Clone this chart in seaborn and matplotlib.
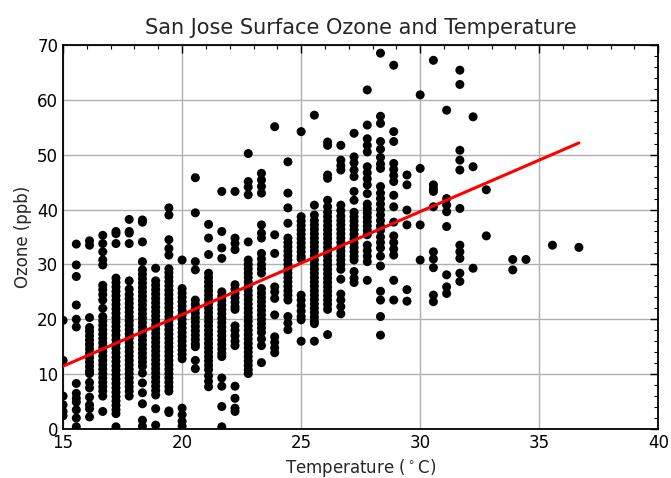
import numpy as np
import pandas as pd
import matplotlib
matplotlib.use("Agg")
import matplotlib.pyplot as plt
from matplotlib.ticker import MultipleLocator
import seaborn as sns

# Daily observations grouped by the whole-degree Fahrenheit reading (59F .. 98F)
oz_59F = [19.8, 12.5, 6.0, 4.4, 3.2, 2.4]
oz_60F = [33.7, 29.9, 27.8, 22.6, 20.0, 18.6, 8.3, 6.5, 5.6, 4.9, 3.5, 2.0, 0.4]
oz_61F = [34.3, 33.5, 20.3, 18.5, 17.8, 17.0, 16.2, 15.4, 14.6, 13.8, 13.0, 12.2,
          11.4, 10.6, 10.1, 8.5, 7.5, 5.8, 4.4, 3.7, 2.2]
oz_62F = [35.3, 33.8, 32.3, 30.8, 29.9, 26.2, 25.4, 24.5, 23.5, 22.0, 20.5, 19.7,
          18.9, 18.1, 17.3, 16.5, 15.7, 14.9, 14.1, 13.3, 12.5, 11.7, 10.9, 10.1,
          9.3, 8.5, 7.7, 6.9, 6.0, 3.2]
oz_63F = [36.0, 35.6, 33.8, 27.5, 26.7, 25.9, 25.1, 24.3, 23.5, 22.7, 21.9, 21.1,
          20.3, 19.5, 18.7, 17.9, 17.1, 16.3, 15.5, 14.7, 13.9, 13.1, 12.3, 11.5,
          10.7, 9.9, 9.1, 8.3, 7.5, 6.7, 5.9, 5.1, 4.3, 3.5, 2.8, 0.4]
oz_64F = [38.2, 36.0, 35.7, 33.8, 27.0, 25.5, 24.5, 23.7, 22.9, 22.1, 21.3, 20.5,
          19.7, 18.9, 18.1, 17.3, 16.5, 15.7, 14.9, 14.1, 13.3, 12.5, 11.7, 10.9,
          10.1, 9.3, 8.5, 7.7, 6.9, 6.0]
oz_65F = [38.1, 37.7, 34.1, 30.5, 29.0, 28.2, 27.4, 26.6, 25.8, 25.0, 24.2, 23.4,
          22.6, 21.8, 21.0, 20.2, 19.4, 18.6, 17.8, 17.0, 16.2, 15.4, 14.6, 13.8,
          13.0, 12.2, 11.4, 10.2, 8.4, 6.6, 4.6, 1.6, 0.5]
oz_66F = [29.3, 27.0, 26.2, 25.4, 24.6, 23.8, 23.0, 22.2, 21.4, 20.6, 19.8, 19.0,
          18.2, 17.4, 16.6, 15.8, 15.0, 14.2, 13.4, 12.6, 11.8, 11.0, 10.2, 9.4,
          8.6, 7.8, 7.0, 6.2, 3.7, 0.7]
oz_67F = [40.3, 39.0, 34.5, 32.9, 31.7, 29.2, 28.5, 27.7, 26.9, 26.1, 25.3, 24.5,
          23.7, 22.9, 22.1, 21.3, 20.5, 19.7, 18.9, 18.1, 17.3, 16.5, 15.7, 14.9,
          14.1, 13.3, 12.5, 11.7, 10.9, 10.1, 9.3, 8.5, 7.7, 6.9, 3.3, 3.0]
oz_68F = [30.8, 25.6, 24.8, 24.0, 23.2, 22.4, 21.6, 20.8, 20.0, 19.2, 18.4, 17.6,
          16.8, 16.0, 15.2, 14.4, 13.6, 12.8, 3.8, 2.6, 1.4, 0.5]
oz_69F = [45.8, 39.4, 30.5, 29.0, 23.5, 22.7, 21.9, 21.1, 20.3, 19.5, 18.7, 17.9,
          17.1, 16.3, 15.5, 15.0, 12.5, 11.0]
oz_70F = [37.3, 34.8, 31.8, 28.4, 27.6, 26.8, 26.0, 25.2, 24.4, 23.6, 22.8, 22.0,
          21.2, 20.4, 19.6, 18.8, 18.0, 17.2, 16.4, 15.6, 14.8, 14.0, 13.2, 12.4,
          11.6, 10.8, 9.7, 8.7, 7.7]
oz_71F = [43.3, 36.0, 33.0, 31.1, 25.0, 24.2, 23.4, 22.6, 21.8, 21.0, 20.2, 19.4,
          18.6, 17.8, 17.0, 16.2, 15.4, 14.6, 13.8, 13.2, 9.3, 7.8, 4.1, 0.4]
oz_72F = [43.3, 34.8, 33.8, 32.7, 26.3, 25.5, 24.7, 23.9, 23.1, 22.3, 21.8, 18.8,
          18.0, 17.0, 16.0, 15.2, 7.8, 5.6, 3.8, 3.2]
oz_73F = [50.2, 45.1, 44.1, 42.7, 34.1, 30.8, 30.0, 29.2, 28.4, 27.6, 26.8, 26.0,
          25.2, 24.4, 23.6, 22.8, 22.0, 21.2, 20.4, 19.6, 18.8, 18.0, 17.2, 16.4,
          15.6, 14.8, 14.0, 13.2, 12.4, 11.6, 10.8, 10.1]
oz_74F = [46.6, 45.4, 44.2, 43.0, 37.2, 35.7, 34.8, 32.0, 31.0, 30.0, 29.2, 28.4,
          25.6, 24.8, 24.0, 23.2, 22.4, 21.6, 20.8, 20.0, 19.2, 18.4, 17.6, 16.4,
          15.2, 12.1]
oz_75F = [55.1, 35.4, 32.0, 25.9, 25.0, 23.8, 20.8, 16.8, 15.8, 14.8, 13.9]
oz_76F = [48.7, 43.0, 40.3, 37.5, 34.8, 34.0, 33.2, 32.4, 31.6, 30.8, 30.0, 29.2,
          28.4, 27.6, 26.8, 26.0, 25.2, 24.4, 23.5, 20.5, 19.3, 18.1]
oz_77F = [54.2, 38.7, 37.9, 37.1, 36.3, 35.5, 34.7, 33.9, 33.1, 32.3, 31.5, 31.0,
          24.4, 23.5, 22.5, 21.5, 20.5, 19.9, 16.0]
oz_78F = [57.2, 40.8, 39.0, 38.0, 37.2, 36.4, 35.6, 34.8, 34.0, 33.2, 32.4, 31.6,
          30.8, 30.0, 29.2, 28.4, 27.6, 26.8, 26.0, 25.2, 24.4, 23.6, 22.8, 22.0,
          21.2, 20.4, 19.6, 19.2, 16.0]
oz_79F = [52.3, 51.7, 46.3, 45.7, 41.7, 40.5, 39.5, 38.7, 37.9, 37.1, 36.3, 35.5,
          34.7, 33.9, 33.1, 32.3, 31.5, 30.7, 29.9, 29.1, 28.3, 27.5, 26.7, 25.9,
          25.1, 24.3, 23.5, 22.7, 21.8, 17.2]
oz_80F = [51.7, 49.0, 48.0, 47.2, 40.8, 39.8, 38.8, 38.0, 37.2, 36.4, 35.6, 34.8,
          34.0, 33.2, 32.4, 31.6, 30.8, 30.0, 29.1, 27.3, 24.6, 23.5, 22.3, 21.0]
oz_81F = [53.9, 49.6, 48.5, 47.2, 46.0, 43.3, 41.7, 39.5, 38.7, 37.9, 37.1, 36.3,
          35.5, 34.7, 33.9, 33.1, 32.3, 31.5, 30.8, 28.7, 27.5, 26.7]
oz_82F = [61.8, 55.4, 52.9, 51.7, 50.5, 47.8, 46.7, 45.6, 44.5, 42.9, 41.0, 40.2,
          39.4, 38.6, 37.8, 37.0, 36.2, 35.4, 33.5, 32.5, 31.5, 30.5, 27.1]
oz_83F = [68.5, 57.0, 55.7, 52.4, 51.0, 49.5, 48.3, 47.5, 44.2, 43.0, 42.0, 41.0,
          40.0, 39.0, 38.0, 37.0, 36.2, 35.0, 34.0, 33.0, 31.5, 29.7, 25.1, 23.5,
          20.5, 17.1]
oz_84F = [66.3, 54.2, 52.4, 48.4, 47.3, 46.2, 45.1, 42.6, 40.5, 37.7, 35.2, 34.0,
          32.8, 31.7, 27.1, 23.5]
oz_85F = [46.3, 44.5, 39.9, 37.2, 25.4, 23.3]
oz_86F = [60.9, 47.5, 37.2, 30.8]
oz_87F = [67.2, 44.5, 43.8, 43.3, 40.5, 32.3, 31.0, 29.4, 24.4, 23.2]
oz_88F = [58.1, 42.0, 40.8, 39.6, 36.9, 28.1, 25.9, 24.7]
oz_89F = [65.4, 62.8, 50.8, 49.0, 47.2, 40.2, 33.5, 32.3, 31.1, 28.4, 26.9]
oz_90F = [56.9, 47.8, 29.3]
oz_91F = [43.6, 35.2]
oz_93F = [30.9, 29.0]
oz_94F = [30.9]
oz_96F = [33.5]
oz_98F = [33.1]

temps_f = [59, 60, 61, 62, 63, 64, 65, 66, 67, 68, 69, 70, 71, 72, 73, 74, 75,
           76, 77, 78, 79, 80, 81, 82, 83, 84, 85, 86, 87, 88, 89, 90, 91, 93,
           94, 96, 98]
ozone_cols = [oz_59F, oz_60F, oz_61F, oz_62F, oz_63F, oz_64F, oz_65F, oz_66F,
              oz_67F, oz_68F, oz_69F, oz_70F, oz_71F, oz_72F, oz_73F, oz_74F,
              oz_75F, oz_76F, oz_77F, oz_78F, oz_79F, oz_80F, oz_81F, oz_82F,
              oz_83F, oz_84F, oz_85F, oz_86F, oz_87F, oz_88F, oz_89F, oz_90F,
              oz_91F, oz_93F, oz_94F, oz_96F, oz_98F]

rows = []
for tf, col in zip(temps_f, ozone_cols):
    tc = (tf - 32) * 5.0 / 9.0
    for o in col:
        rows.append((tc, o))
df = pd.DataFrame(rows, columns=["temperature", "ozone"])

sns.set_style("white")
plt.rcParams["font.family"] = ["DejaVu Sans"]

fig = plt.figure(figsize=(6.71, 4.78), dpi=100)
ax = fig.add_axes([0.094, 0.1025, 0.887, 0.8035])

sns.scatterplot(data=df, x="temperature", y="ozone", color="black", s=42,
                edgecolor="none", linewidth=0, ax=ax, zorder=3)
sns.regplot(data=df, x="temperature", y="ozone", scatter=False, ci=None,
            truncate=True, color="red", line_kws={"lw": 2.2, "zorder": 4}, ax=ax)

ax.set_xlim(15, 40)
ax.set_ylim(0, 70)
ax.xaxis.set_major_locator(MultipleLocator(5))
ax.xaxis.set_minor_locator(MultipleLocator(1))
ax.yaxis.set_major_locator(MultipleLocator(10))
ax.yaxis.set_minor_locator(MultipleLocator(2))
ax.tick_params(which="both", direction="in", top=True, right=True,
               colors="black", labelsize=12)
ax.tick_params(which="major", length=6, width=1)
ax.tick_params(which="minor", length=3, width=0.8)
ax.grid(True, which="major", color="#b0b0b0", lw=1, zorder=0)
ax.set_axisbelow(True)
for sp in ax.spines.values():
    sp.set_color("black")
    sp.set_linewidth(1.3)

ax.set_title("San Jose Surface Ozone and Temperature", fontsize=15, pad=8)
ax.set_xlabel("Temperature ($^\\circ$C)", fontsize=12)
ax.set_ylabel("Ozone (ppb)", fontsize=12)

fig.savefig("out.png", dpi=100)
